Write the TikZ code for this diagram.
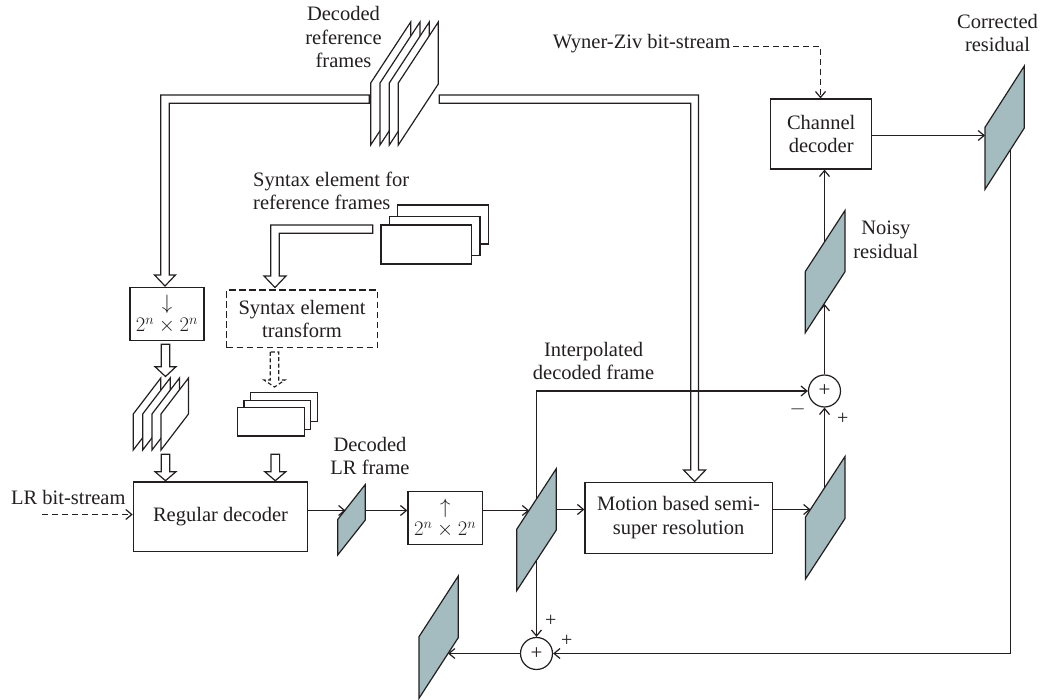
\documentclass[tikz,border=0pt]{standalone}
\usepackage{fontspec}
\setmainfont{Liberation Serif}
\usetikzlibrary{arrows.meta,calc}
\definecolor{ink}{RGB}{35,31,32}
\definecolor{slabfill}{RGB}{164,187,192}
\newcommand\diafont{\fontsize{20.5}{23.5}\selectfont}
\newcommand\signfont{\fontsize{20}{22}\selectfont}
\newcommand\sumfont{\fontsize{21}{23}\selectfont}
\tikzset{
  base/.style={line width=1.2pt, draw=ink},
  box/.style={base, rectangle, fill=white, inner sep=0pt, align=center, font=\diafont, text=ink},
  lab/.style={inner sep=0pt, align=center, font=\diafont, text=ink},
  sign/.style={inner sep=0pt, font=\signfont, text=ink},
  sumnode/.style={base, circle, fill=white, minimum size=32pt, inner sep=0pt, font=\sumfont, text=ink},
  conn/.style={base, -{Straight Barb[length=6pt,width=10pt,line width=1.2pt]}},
  dashconn/.style={conn, dash pattern=on 6pt off 4pt},
  hol/.style={base, fill=white, line join=miter},
  dbox/.style={box, dash pattern=on 6.5pt off 3.5pt},
}
% #1 name, #2 left x, #3 top of left edge, #4 bottom of left edge, #5 width, #6 shear, #7 fill
\newcommand\slab[7]{%
  \draw[base, fill=#7] (#2,#4) -- (#2,#3) -- ({#2+#5},{#3-#6}) -- ({#2+#5},{#4-#6}) -- cycle;
  \coordinate (#1) at ({#2+#5/2},{(#3+#4)/2-#6/2});}
% vertical hollow arrow: #1 options, #2 centre x, #3 top y, #4 head base y, #5 tip y
\newcommand\hollowv[5][]{%
  \draw[hol,#1] ({#2-4.3},#3) -- ({#2-4.3},#4) -- ({#2-10.5},#4) -- (#2,#5) -- ({#2+10.5},#4) -- ({#2+4.3},#4) -- ({#2+4.3},#3) -- cycle;}
\begin{document}
\begin{tikzpicture}[x=1pt,y=-1pt]
\useasboundingbox (0,0) rectangle (1044,700);

% ---------- boxes ----------
\node[box, minimum width=174.4pt, minimum height=69.7pt] (regdec) at (220.5,516.8) {Regular decoder};
\node[box, minimum width=74pt, minimum height=53.4pt] (down) at (167,314) {$\downarrow$\\[-1pt]$2^n\times 2^n$};
\node[box, minimum width=74.7pt, minimum height=52.6pt] (up) at (445.3,518) {$\uparrow$\\[-1pt]$2^n\times 2^n$};
\node[dbox, minimum width=150.6pt, minimum height=57.7pt] (syntr) at (302,318.9) {Syntax element\\transform};
\node[box, minimum width=187.3pt, minimum height=71pt] (motion) at (678.6,517.8) {Motion based semi-\\super resolution};
\node[box, minimum width=101pt, minimum height=70pt] (chan) at (821.2,134) {Channel\\decoder};
\node[sumnode] (sum1) at (824.5,391) {+};
\node[sumnode] (sum2) at (536.5,653.5) {+};

% ---------- hollow arrows ----------
\draw[hol] (369.3,95) -- (160.7,95) -- (160.7,275) -- (154.5,275) -- (165,286) -- (175.5,275) -- (169.3,275) -- (169.3,103.3) -- (369.3,103.3) -- cycle;
\draw[hol] (439.3,95) -- (698.5,95) -- (698.5,470) -- (705.6,470) -- (694.6,481.5) -- (683.6,470) -- (690.7,470) -- (690.7,103.3) -- (439.3,103.3) -- cycle;
\draw[hol] (372.7,225) -- (270.7,225) -- (270.7,276) -- (264,276) -- (275,287.5) -- (286,276) -- (279.3,276) -- (279.3,233.3) -- (372.7,233.3) -- cycle;
\hollowv{165.5}{344.3}{366.7}{376.5}
\hollowv{165.5}{454.3}{471.7}{480.7}
\hollowv{275.3}{454.3}{471.7}{480.7}
\hollowv[dash pattern=on 4pt off 2.5pt]{274.5}{352}{380}{387}

% ---------- frame stacks ----------
\foreach \L in {370.7,380,389.3,398.3} {\slab{drf}{\L}{83}{145}{40}{61}{white}}
\foreach \L in {133.3,142.7,152,161} {\slab{lsf}{\L}{414}{450}{27.5}{36}{white}}
\draw[base, fill=white] (397.7,205) rectangle (488.7,244);
\draw[base, fill=white] (389.3,216.7) rectangle (480,255.7);
\draw[base, fill=white] (381,225) rectangle (471.7,264);
\draw[base, fill=white] (250.3,392.3) rectangle (317.3,421.7);
\draw[base, fill=white] (244,400.7) rectangle (310.7,429.3);
\draw[base, fill=white] (237.3,407.3) rectangle (304.3,436);

% ---------- filled frames ----------
\slab{lrf}{337.7}{519.5}{555}{27.6}{35}{slabfill}
\slab{ifr}{516.7}{529.3}{590.7}{39.5}{60.5}{slabfill}
\slab{srf}{805.5}{517}{579}{39.5}{60.5}{slabfill}
\slab{nrf}{805.3}{271.5}{332.7}{39.7}{61}{slabfill}
\slab{crf}{985}{127.3}{189.3}{39.3}{61.3}{slabfill}
\slab{outf}{419}{636.7}{698.3}{39.3}{60.7}{slabfill}

% ---------- connector end points on frame edges ----------
\coordinate (lrin) at (42,514.5);
\coordinate (lrf-in) at (345.5,510.5);
\coordinate (lrf-out) at (365.3,510.5);
\coordinate (ifr-in) at (529.2,510.5);
\coordinate (ifr-out) at (556.2,509.5);
\coordinate (ifr-top) at (536.5,498.6);
\coordinate (ifr-bot) at (536.5,560);
\coordinate (srf-in) at (810.5,509.5);
\coordinate (srf-top) at (824.5,488.2);
\coordinate (nr-in) at (824.5,304);
\coordinate (nr-top) at (824.5,242.5);
\coordinate (wz) at (733,46.5);
\coordinate (crf-in) at (985,135.5);
\coordinate (crf-bot) at (1010.5,150);
\coordinate (out-in) at (448,653.5);

% ---------- connectors ----------
\draw[dashconn] (lrin) -- (lrin -| regdec.west);
\draw[conn] (lrf-in -| regdec.east) -- (lrf-in);
\draw[conn] (lrf-out) -- (lrf-out -| up.west);
\draw[conn] (ifr-in -| up.east) -- (ifr-in);
\draw[conn] (ifr-out) -- (ifr-out -| motion.west);
\draw[conn] (srf-in -| motion.east) -- (srf-in);
\draw[conn] (srf-top) -- (sum1.south);
\draw[conn] (ifr-top) |- (sum1.west);
\draw[conn] (sum1.north) -- (nr-in);
\draw[conn] (nr-top) -- (nr-top |- chan.south);
\draw[dashconn] (wz) -| ($(chan.north)+(-0.7,0)$);
\draw[conn] (crf-in -| chan.east) -- (crf-in);
\draw[conn] (crf-bot) |- (sum2.east);
\draw[conn] (ifr-bot) -- (sum2.north);
\draw[conn] (sum2.west) -- (out-in);

% ---------- labels ----------
\node[lab] (t-drf) at (343.5,37) {Decoded\\reference\\frames};
\node[lab, align=left, anchor=west] (t-syn) at (253,191) {Syntax element for\\reference frames};
\node[lab] (t-lr) at (68.3,497) {LR bit-stream};
\node[lab] (t-lrf) at (370,456) {Decoded\\LR frame};
\node[lab] (t-ifr) at (593.6,361) {Interpolated\\decoded frame};
\node[lab] (t-nr) at (885.8,240) {Noisy\\residual};
\node[lab] (t-crf) at (997.5,33) {Corrected\\residual};
\node[lab, anchor=east] (t-wz) at (730.7,43.3) {Wyner-Ziv bit-stream};
\node[sign] (s1) at (797.7,409.3) {$-$};
\node[sign] (s2) at (842.7,419.3) {+};
\node[sign] (s3) at (550.7,620.7) {+};
\node[sign] (s4) at (566.7,640.7) {+};
\end{tikzpicture}
\end{document}
